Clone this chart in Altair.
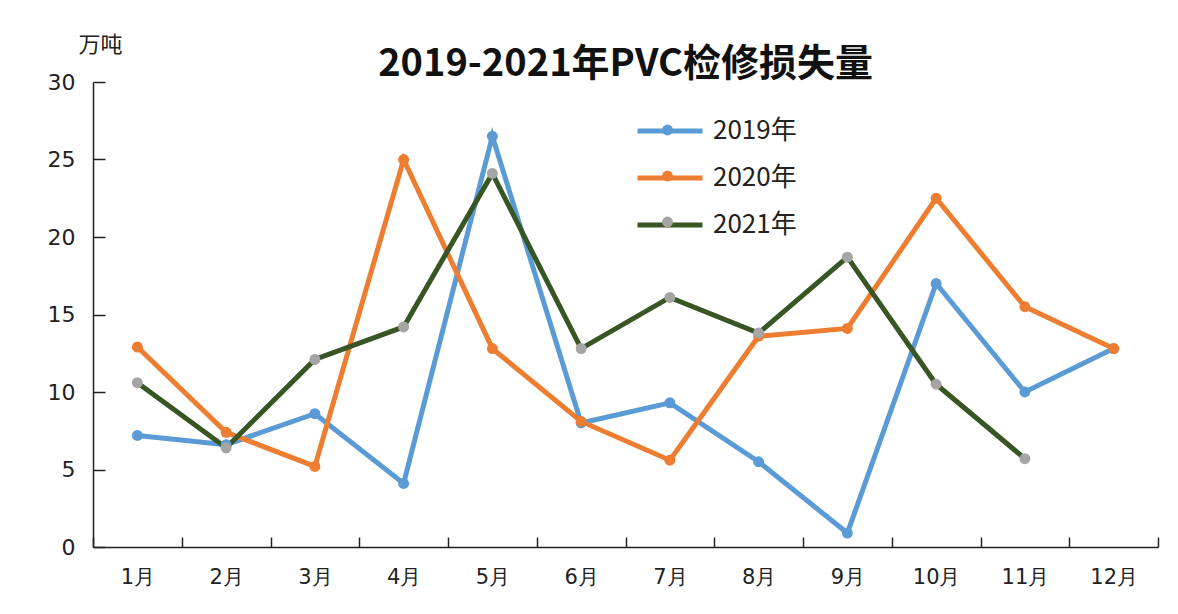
import altair as alt
import pandas as pd

months = ["1月", "2月", "3月", "4月", "5月", "6月", "7月", "8月", "9月", "10月", "11月", "12月"]
years = ["2019年", "2020年", "2021年"]
v2019 = [7.2, 6.6, 8.6, 4.1, 26.5, 8.0, 9.3, 5.5, 0.9, 17.0, 10.0, 12.8]
v2020 = [12.9, 7.4, 5.2, 25.0, 12.8, 8.1, 5.6, 13.6, 14.1, 22.5, 15.5, 12.8]
v2021 = [10.6, 6.4, 12.1, 14.2, 24.1, 12.8, 16.1, 13.8, 18.7, 10.5, 5.7]

line_colors = ["#5b9bd5", "#ed7d31", "#375623"]
marker_colors = ["#5b9bd5", "#ed7d31", "#a5a5a5"]
marker_keys = ["点" + y for y in years]

rows = []
for yr, mk, vals in zip(years, marker_keys, [v2019, v2020, v2021]):
    for m, v in zip(months, vals):
        rows.append({"month": m, "value": v, "year": yr, "marker": mk})
df = pd.DataFrame(rows)

FONT = "Noto Sans CJK SC"
NUMFONT = "DejaVu Sans"

x_enc_main = alt.X(
    "month:N", sort=months, title=None,
    scale=alt.Scale(paddingInner=0, paddingOuter=0),
    axis=alt.Axis(orient="bottom", offset=-10, domain=False, tickSize=10, tickBand="extent",
                  tickColor="#222222", tickWidth=1.5, labelAngle=0, labelPadding=19,
                  labelFontSize=21, labelColor="#222222", labelFont=NUMFONT, grid=False),
)
y_enc_main = alt.Y(
    "value:Q", title="万吨",
    scale=alt.Scale(domain=[0, 30], nice=False, zero=True),
    axis=alt.Axis(orient="left", offset=-12, domain=False, tickSize=12, values=[0, 5, 10, 15, 20, 25, 30],
                  tickColor="#222222", tickWidth=1.5, labelPadding=18, labelFontSize=22,
                  labelColor="#222222", labelFont=NUMFONT, grid=False,
                  titleAngle=0, titleX=-5, titleY=-38, titleAlign="center", titleBaseline="middle",
                  titleFontSize=22, titleFontWeight="normal", titleFont=FONT, titleColor="#222222"),
)

lines = alt.Chart(df).mark_line(strokeWidth=5).encode(
    x=x_enc_main,
    y=y_enc_main,
    color=alt.Color(
        "year:N", scale=alt.Scale(domain=years, range=line_colors),
        legend=alt.Legend(
            title=None, orient="none", legendX=558, legendY=30,
            symbolType="M-2,0H2",
            symbolSize=1056, symbolStrokeWidth=5, labelFontSize=26, labelFont=FONT,
            labelColor="#222222", rowPadding=15, labelOffset=24,
        ),
    ),
    detail="year:N",
)

points = alt.Chart(df).mark_point(filled=True, size=120, opacity=1).encode(
    x=alt.X("month:N", sort=months, title=None,
            axis=alt.Axis(orient="bottom", domain=True, domainColor="#222222", domainWidth=1.5,
                          ticks=False, labels=False, grid=False)),
    y=alt.Y("value:Q", title=None,
            axis=alt.Axis(orient="left", domain=True, domainColor="#222222", domainWidth=1.5,
                          ticks=False, labels=False, grid=False)),
    fill=alt.Fill("marker:N", scale=alt.Scale(domain=marker_keys, range=marker_colors),
                  legend=alt.Legend(
                      title=None, orient="none", legendX=569, legendY=42.5,
                      symbolType="circle", symbolSize=120, symbolStrokeWidth=0,
                      labelExpr="''", labelFontSize=1, labelOffset=0,
                      rowPadding=35,
                  )),
)

chart = alt.layer(lines, points).resolve_axis(x="independent", y="independent").properties(
    width=1065, height=465,
    background="white",
    title=alt.TitleParams("2019-2021年PVC检修损失量", fontSize=38, fontWeight="bold", font=FONT,
                          color="#111111", anchor="middle", offset=8, dy=59),
    autosize=alt.AutoSizeParams(type="none"),
    padding={"left": 85, "top": 74, "right": 12, "bottom": 59},
).configure_view(strokeWidth=0, stroke="transparent")

chart.save("out.html", embed_options={"renderer": "svg", "actions": False})
